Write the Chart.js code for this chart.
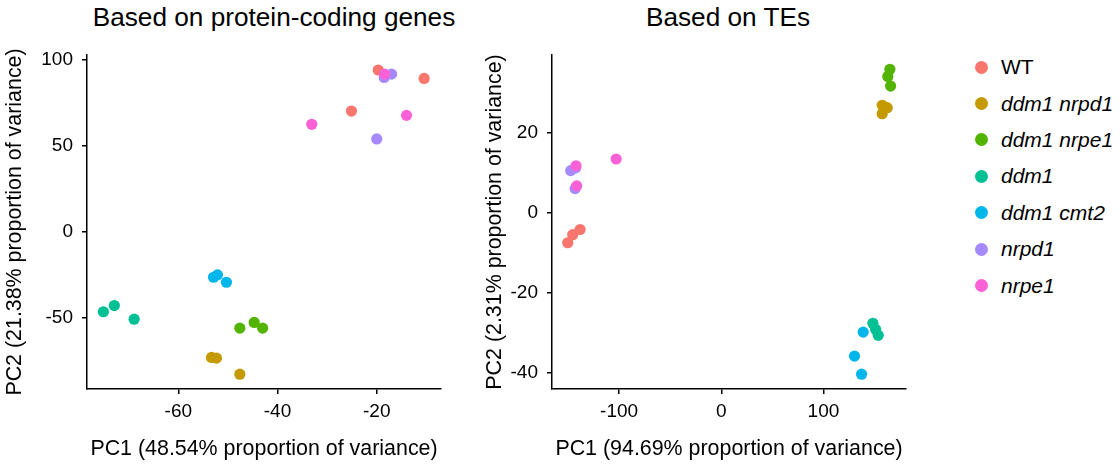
<!DOCTYPE html>
<html>
<head>
<meta charset="utf-8">
<script src="https://cdn.jsdelivr.net/npm/chart.js@4"></script>
<style>
  body { margin: 0; background: #fff; font-family: 'Liberation Sans', Arial, sans-serif; }
  #wrap { position: relative; width: 1120px; height: 465px; }
  canvas { position: absolute; top: 0; }
  .title { position: absolute; top: 2px; font-size: 26.2px; color: #000; white-space: nowrap; transform: translateX(-50%); }
  #legend { position: absolute; left: 975px; top: 49px; }
  .item { height: 36.4px; display: flex; align-items: center; font-size: 21px; }
  .dot { width: 13px; height: 13px; border-radius: 50%; margin-right: 13px; }
</style>
</head>
<body>
<div id="wrap">
  <div class="title" style="left:274px">Based on protein-coding genes</div>
  <div class="title" style="left:728px">Based on TEs</div>
  <canvas id="chart1" width="460" height="465" style="left:0;width:460px;height:465px"></canvas>
  <canvas id="chart2" width="455" height="465" style="left:470px;width:455px;height:465px"></canvas>
  <div id="legend"></div>
</div>
<script>
const groups = ['WT', 'ddm1 nrpd1', 'ddm1 nrpe1', 'ddm1', 'ddm1 cmt2', 'nrpd1', 'nrpe1'];
const colors = ['#F8766D', '#C49A00', '#53B400', '#00C094', '#00B6EB', '#A58AFF', '#FB61D7'];

// protein-coding genes, one sub-array per group (3 replicates)
const genesPC1 = [
  [-19.7, -10.45, -25.1],
  [-53.3, -52.3, -47.6],
  [-47.6, -44.7, -43.0],
  [-75.1, -72.9, -68.9],
  [-52.1, -52.9, -50.3],
  [-17.0, -18.5, -20.0],
  [-18.4, -33.1, -14.0]
];
const genesPC2 = [
  [93.9, 89.0, 70.1],
  [-72.8, -73.2, -82.5],
  [-55.8, -52.5, -55.8],
  [-46.3, -42.7, -50.6],
  [-24.9, -26.3, -29.2],
  [91.5, 89.6, 53.9],
  [91.5, 62.4, 67.6]
];

// TEs
const tesPC1 = [
  [-150.3, -145.4, -138.2],
  [157.5, 162.4, 157.5],
  [165.0, 163.0, 165.7],
  [148.4, 151.0, 153.6],
  [138.9, 130.4, 137.3],
  [-147.4, -143.1, -142.5],
  [-142.2, -141.5, -102.9]
];
const tesPC2 = [
  [-7.5, -5.5, -4.2],
  [26.8, 26.2, 24.7],
  [35.8, 34.0, 31.6],
  [-27.6, -29.1, -30.6],
  [-29.8, -35.8, -40.3],
  [10.5, 6.0, 11.2],
  [11.7, 6.7, 13.4]
];

const genesXTicks = [-60, -40, -20];
const genesYTicks = [-50, 0, 50, 100];
const tesXTicks = [-100, 0, 100];
const tesYTicks = [-40, -20, 0, 20];

const FONT = "'Liberation Sans', Arial, sans-serif";

function makeDatasets(xs, ys) {
  return groups.map((g, i) => ({
    label: g,
    data: xs[i].map((x, j) => ({ x: x, y: ys[i][j] })),
    backgroundColor: colors[i],
    borderWidth: 0,
    pointRadius: 5.6,
    order: groups.length - i
  }));
}

function axis(ticks, min, max, title, titlePad, size, horizontal) {
  return {
    type: 'linear',
    min: min,
    max: max,
    afterBuildTicks: s => { s.ticks = ticks.map(v => ({ value: v })); },
    afterFit: s => { if (horizontal) s.height = size; else s.width = size; },
    border: { display: true, color: '#000', width: 1.5 },
    grid: { display: true, drawOnChartArea: false, drawTicks: true, tickLength: 5, color: '#000', lineWidth: 1.5 },
    ticks: { color: '#000', font: { family: FONT, size: 19 }, padding: horizontal ? 6 : 9 },
    title: { display: true, text: title, color: '#000', font: { family: FONT, size: 21.4 }, padding: titlePad }
  };
}

function makeChart(id, xs, ys, xr, yr, xt, yt, xTitle, yTitle, yWidth, yTitlePad) {
  return new Chart(document.getElementById(id), {
    type: 'scatter',
    data: { datasets: makeDatasets(xs, ys) },
    options: {
      responsive: false,
      animation: false,
      layout: { padding: { top: 55, right: 19, left: 0, bottom: 0 } },
      plugins: { legend: { display: false }, tooltip: { enabled: false } },
      scales: {
        x: axis(xt, xr[0], xr[1], xTitle, { top: 0, bottom: 3 }, 76, true),
        y: axis(yt, yr[0], yr[1], yTitle, { top: yTitlePad, bottom: 0 }, yWidth, false)
      }
    }
  });
}

makeChart('chart1', genesPC1, genesPC2, [-78.4, -7.05], [-91.1, 102.6], genesXTicks, genesYTicks,
  'PC1 (48.54% proportion of variance)', 'PC2 (21.38% proportion of variance)', 87, 2);
makeChart('chart2', tesPC1, tesPC2, [-165.7, 180.8], [-44.0, 39.35], tesXTicks, tesYTicks,
  'PC1 (94.69% proportion of variance)', 'PC2 (2.31% proportion of variance)', 82, 12);

const legend = document.getElementById('legend');
groups.forEach((g, i) => {
  const item = document.createElement('div');
  item.className = 'item';
  const dot = document.createElement('span');
  dot.className = 'dot';
  dot.style.background = colors[i];
  const txt = document.createElement('span');
  txt.textContent = g;
  if (g !== 'WT') txt.style.fontStyle = 'italic';
  item.appendChild(dot);
  item.appendChild(txt);
  legend.appendChild(item);
});
</script>
</body>
</html>
